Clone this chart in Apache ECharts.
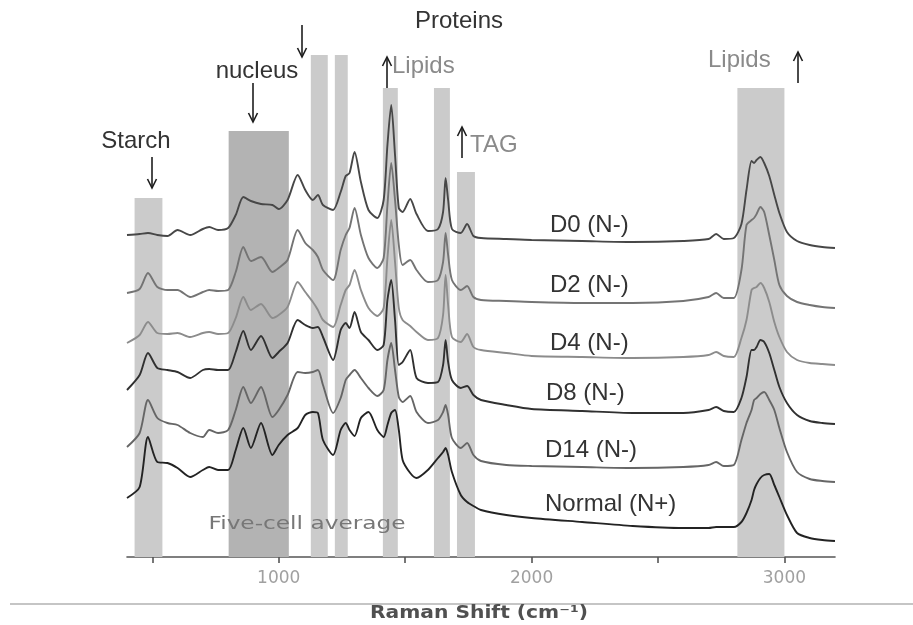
<!DOCTYPE html>
<html><head><meta charset="utf-8">
<script src="https://cdn.jsdelivr.net/npm/echarts@6/dist/echarts.min.js"></script>
<style>html,body{margin:0;padding:0;background:#fff}#c{width:913px;height:625px}</style>
</head><body><div id="c"></div>
<script>
// Raman shift (cm-1) sample positions shared by all spectra
const shifts = [400,450,483,520,560,600,650,700,725,760,800,830,860,890,930,975,1000,1035,1075,1105,1135,1155,1175,1215,1245,1265,1280,1300,1325,1355,1390,1415,1430,1445,1460,1475,1490,1520,1545,1590,1630,1650,1660,1670,1685,1720,1745,1770,1800,1900,2000,2200,2400,2600,2700,2730,2760,2800,2830,2850,2870,2880,2890,2905,2920,2940,2960,2980,3010,3050,3100,3150,3200];

// Stacked intensities (arbitrary units, offsets included as plotted)
const D0 = [322,323,324,322,321,327,322,328,330,327,329,342,360,356,353,352,348,357,382,367,357,362,352,347,365,381,384,405,375,347,339,357,412,452,402,349,345,358,343,326,328,345,379,357,328,324,333,321,319,318,317,316,315,316,318,323,318,319,333,367,396,394,397,400,394,381,362,344,325,316,312,310,309];
const D2 = [264,268,284,270,267,267,260,265,267,266,267,285,310,296,300,285,289,297,327,314,307,300,287,277,307,322,329,349,322,299,289,299,352,394,357,312,292,297,287,275,277,295,324,302,277,267,271,260,257,256,255,254,254,256,260,264,259,259,287,332,337,339,343,350,345,322,297,272,261,255,252,250,249];
const D4 = [214,222,235,224,223,224,220,224,225,223,224,239,260,247,253,239,242,250,275,265,255,247,237,230,252,267,272,287,267,249,241,249,299,337,295,249,237,231,225,217,219,242,282,252,220,215,223,210,207,204,201,200,199,200,202,205,201,200,219,237,267,269,270,274,269,255,235,220,205,197,194,193,192];
const D8 = [167,182,204,189,187,185,179,187,188,187,187,205,226,207,221,199,205,214,237,232,229,230,220,197,227,234,229,245,225,217,207,212,257,277,237,192,195,207,179,174,175,192,217,195,177,169,171,162,157,152,148,146,144,144,147,150,146,145,159,180,207,207,210,217,215,204,187,170,154,142,136,134,133];
const D14 = [110,124,157,139,134,132,124,120,127,124,127,147,170,154,170,140,147,162,185,184,185,187,172,144,159,177,182,187,179,169,161,167,197,214,187,160,155,161,145,134,137,145,152,142,119,109,114,102,96,92,91,90,89,90,92,95,91,92,117,134,147,157,159,163,165,157,147,129,105,85,78,76,75];
const Normal = [59,70,120,95,94,89,80,87,90,87,87,107,129,109,134,102,112,122,129,142,145,144,117,102,127,134,127,121,139,145,127,120,132,144,147,127,97,84,79,87,99,105,109,102,85,62,55,51,47,42,39,35,31,29,29,30,30,30,35,44,57,67,73,79,82,83,72,60,42,24,19,17,16];

const seriesNames = ['D0 (N-)','D2 (N-)','D4 (N-)','D8 (N-)','D14 (N-)','Normal (N+)'];
const seriesValues = [D0, D2, D4, D8, D14, Normal];

// Highlighted Raman bands (cm-1) and their heights (same units as spectra)
const bandStart = [430, 802, 1127, 1222, 1412, 1614, 1705, 2814];
const bandEnd   = [540, 1040, 1194, 1273, 1471, 1677, 1776, 3000];
const bandTop   = [359, 426, 502, 502, 469, 469, 385, 469];

const tickLabels = [1000, 2000, 3000];
const minorTicks = [500, 1000, 1500, 2000, 2500, 3000];

const lineColors = ['#474747','#747474','#8c8c8c','#303030','#666666','#232323'];
const FONT = '"Liberation Sans", Arial, sans-serif';

const chart = echarts.init(document.getElementById('c'), null, {renderer: 'canvas'});

const measureCtx = document.createElement('canvas').getContext('2d');
function textW(t, size, weight, family) {
  measureCtx.font = (weight || 'normal') + ' ' + size + 'px ' + (family || FONT);
  return measureCtx.measureText(t).width;
}

const series = [];
series.push({
  type: 'line', data: [], z: 1, silent: true,
  markArea: {
    silent: true,
    data: bandStart.map((s, i) => [
      {xAxis: s, yAxis: 0, itemStyle: {color: i === 1 ? '#b3b3b3' : '#cbcbcb'}},
      {xAxis: bandEnd[i], yAxis: bandTop[i]}
    ])
  }
});
seriesValues.forEach((vals, k) => {
  series.push({
    name: seriesNames[k], type: 'line', z: 3, silent: true,
    showSymbol: false, smooth: 0.25,
    lineStyle: {width: 1.9, color: lineColors[k]},
    data: shifts.map((x, i) => [x, vals[i]])
  });
});

function arrow(x, y1, y2) {
  const d = y2 > y1 ? 1 : -1;
  return [
    {type: 'line', shape: {x1: x, y1: y1, x2: x, y2: y2}, style: {stroke: '#1e1e1e', lineWidth: 1.6}},
    {type: 'polyline', shape: {points: [[x - 4.5, y2 - 9 * d], [x, y2], [x + 4.5, y2 - 9 * d]]}, style: {stroke: '#1e1e1e', lineWidth: 1.6, fill: null}}
  ];
}
function txt(t, x, y, opts) {
  opts = opts || {};
  const size = opts.size || 24;
  const fam = opts.family || FONT;
  const el = {
    type: 'text', x: x, y: y, z: 10,
    style: {
      text: t, fontSize: size, fontFamily: fam, fontWeight: opts.weight || 'normal',
      fill: opts.color || '#333',
      align: opts.align || 'left', textAlign: opts.align || 'left',
      verticalAlign: 'middle', textVerticalAlign: 'middle'
    }
  };
  if (opts.width) {
    el.scaleX = opts.width / textW(t, size, opts.weight, fam);
  }
  return el;
}

const labelPos = [[550,225],[550,285],[550,343],[546,393],[545,450],[545,504]];
const graphics = [];
graphics.push({type: 'line', shape: {x1: 10, y1: 604, x2: 913, y2: 604}, style: {stroke: '#b2b2b2', lineWidth: 1.5}});
seriesNames.forEach((n, i) => graphics.push(txt(n, labelPos[i][0], labelPos[i][1])));
graphics.push(txt('Starch', 136, 141, {align: 'center'}));
graphics.push(txt('nucleus', 257, 71, {align: 'center'}));
graphics.push(txt('Proteins', 459, 21, {align: 'center'}));
graphics.push(txt('Lipids', 392, 66, {color: '#8a8a8a'}));
graphics.push(txt('TAG', 470, 145, {color: '#8a8a8a'}));
graphics.push(txt('Lipids', 708, 60, {color: '#8a8a8a'}));
graphics.push(txt('Five-cell average', 307, 525, {align: 'center', size: 17, color: '#777', width: 197, family: '"DejaVu Sans", sans-serif'}));
graphics.push(txt('Raman Shift (cm\u207B\u00B9)', 479, 614, {align: 'center', size: 17, weight: 'bold', color: '#505050', width: 218, family: '"DejaVu Sans", sans-serif'}));
[].concat(
  arrow(152, 157, 188),
  arrow(253, 83, 122),
  arrow(302, 25, 57),
  arrow(387, 88, 57),
  arrow(462, 158, 127),
  arrow(798, 83, 52)
).forEach(g => graphics.push(g));

chart.setOption({
  animation: false,
  backgroundColor: '#fff',
  grid: {left: 127, right: 78, top: 0, bottom: 68, containLabel: false},
  xAxis: {
    type: 'value', min: 400, max: 3200,
    axisLine: {show: true, onZero: false, lineStyle: {color: '#555', width: 1.6}},
    axisTick: {show: true, length: 6, inside: false, lineStyle: {color: '#555', width: 1.6}, customValues: minorTicks},
    axisLabel: {show: true, color: '#a0a0a0', fontSize: 17, fontFamily: '"DejaVu Sans", sans-serif', margin: 13,
      customValues: tickLabels, formatter: v => String(v)},
    splitLine: {show: false}
  },
  yAxis: {type: 'value', min: 0, max: 557, show: false},
  series: series,
  graphic: graphics
});
</script>
</body></html>
